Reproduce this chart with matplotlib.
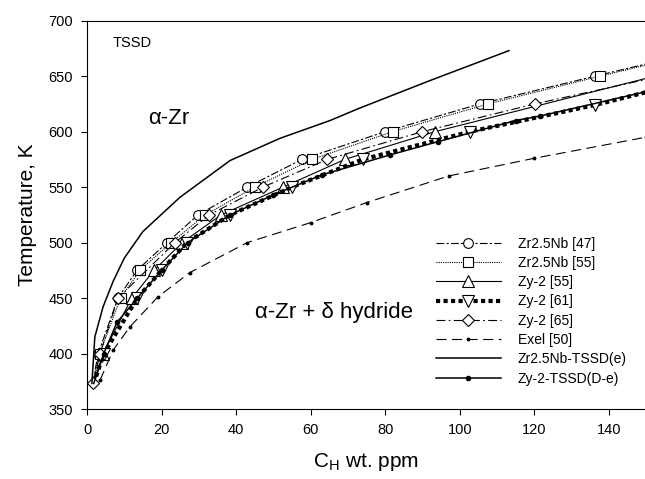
import matplotlib
matplotlib.use('Agg')
import matplotlib.pyplot as plt

plt.rcParams['font.family'] = ['Liberation Sans', 'DejaVu Sans']
plt.rcParams['mathtext.fontset'] = 'custom'
plt.rcParams['mathtext.rm'] = 'Liberation Sans'

# Zr2.5Nb [47] - circles
x_nb47 = [1.5, 3.0, 8.3, 13.4, 21.5, 29.8, 43.0, 57.7, 80.0, 105.4, 136.3, 150]
t_nb47 = [373, 400, 450, 475, 500, 525, 550, 575, 600, 625, 650, 661]
# Zr2.5Nb [55] - squares
x_nb55 = [1.6, 3.4, 9.0, 14.2, 22.6, 31.7, 45.0, 60.4, 82.0, 107.6, 137.6, 150]
t_nb55 = [373, 400, 450, 475, 500, 525, 550, 575, 600, 625, 650, 660]
# Zy-2 [55] - up triangles
x_zy55 = [1.8, 4.3, 12.0, 18.0, 25.5, 36.0, 52.6, 69.2, 93.4, 150]
t_zy55 = [373, 400, 450, 475, 500, 525, 550, 575, 600, 648]
# Zy-2 [61] - down triangles
x_zy61 = [1.8, 4.5, 13.5, 20.0, 26.8, 38.4, 55.0, 74.0, 102.8, 136.3, 150]
t_zy61 = [373, 400, 450, 475, 500, 525, 550, 575, 600, 624, 635.5]
# Zy-2 [65] - diamonds
x_zy65 = [1.6, 3.5, 8.3, 23.6, 32.8, 47.2, 64.5, 90.0, 120.2, 150]
t_zy65 = [373, 400, 450, 500, 525, 550, 575, 600, 625, 647]
# Exel [50]
x_exel = [3.5, 7.0, 11.5, 19.0, 27.6, 43.0, 60.0, 75.0, 97.0, 120.0, 150]
t_exel = [376, 403, 424, 451, 473, 500, 518, 536, 560, 576, 595]
# Zr2.5Nb-TSSD(e)
x_nbe = [1.3, 2.1, 4.3, 7.0, 10.0, 15.0, 25.0, 38.4, 51.8, 65.2, 73.0, 92.0, 113.2]
t_nbe = [373, 415, 442, 465, 486, 510, 541, 574, 594, 610, 621, 646, 673]
# Zy-2-TSSD(D-e)
x_zye = [1.8, 4.5, 8.0, 13.5, 20.0, 27.0, 38.4, 50.0, 63.0, 81.3, 94.2, 115.0, 121.5, 150]
t_zye = [373, 400, 428, 450, 475, 500, 525, 543, 561, 579, 591, 610, 614, 636]

fig = plt.figure(figsize=(6.45, 4.79), dpi=100)
ax = fig.add_axes([0.1349, 0.1461, 0.8667, 0.8107])

open_mk = dict(mfc='white', mec='black', mew=0.8, color='black', lw=0.8)

ax.plot(x_nb47, t_nb47, ls=(0, (7, 2, 2, 2)), marker='o', ms=7,
        markevery=list(range(1, len(x_nb47) - 1)), label='Zr2.5Nb [47]', **open_mk)
ax.plot(x_nb55, t_nb55, ls=(0, (1, 1)), marker='s', ms=7,
        markevery=list(range(1, len(x_nb55) - 1)), label='Zr2.5Nb [55]', **open_mk)
ax.plot(x_zy55, t_zy55, ls='-', marker='^', ms=8,
        markevery=list(range(1, len(x_zy55) - 1)), label='Zy-2 [55]', **open_mk)
ax.plot(x_zy61, t_zy61, ls=(0, (1, 0.8)), dash_capstyle='butt', marker='v', ms=8,
        markevery=list(range(1, len(x_zy61) - 1)), label='Zy-2 [61]',
        mfc='white', mec='black', mew=0.8, color='black', lw=3)
ax.plot(x_zy65, t_zy65, ls=(0, (8, 3, 1.5, 3)), marker='D', ms=6,
        markevery=list(range(0, len(x_zy65) - 1)), label='Zy-2 [65]', **open_mk)
ax.plot(x_exel, t_exel, ls=(0, (9, 5)), marker='o', ms=1.8, color='black', lw=0.8,
        label='Exel [50]')
ax.plot(x_nbe, t_nbe, ls='-', color='black', lw=1.1, label='Zr2.5Nb-TSSD(e)')
ax.plot(x_zye, t_zye, ls='-', color='black', lw=1.1, marker='o', ms=3,
        markevery=list(range(1, len(x_zye) - 1)), label='Zy-2-TSSD(D-e)')

ax.set_xlim(0, 150)
ax.set_ylim(350, 700)
ax.set_xticks(range(0, 141, 20))
ax.set_yticks(range(350, 701, 50))
ax.spines['right'].set_visible(False)
ax.tick_params(direction='out', length=4, width=0.8, labelsize=10.5, pad=6)

ax.set_xlabel(r'C$_\mathregular{H}$ wt. ppm', fontsize=15, labelpad=10)
ax.set_ylabel('Temperature, K', fontsize=15, labelpad=8)

ax.text(7, 680, 'TSSD', fontsize=10.5, va='center')
ax.text(16.4, 612, 'α-Zr', fontsize=16, va='center')
ax.text(45, 437, 'α-Zr + δ hydride', fontsize=16, va='center')

ax.legend(loc='upper left', bbox_to_anchor=(0.624, 0.444), frameon=False,
          fontsize=10, handlelength=4.7, handletextpad=1.2, labelspacing=0.38,
          borderpad=0, borderaxespad=0, numpoints=1)

fig.savefig('out.png', dpi=100)
